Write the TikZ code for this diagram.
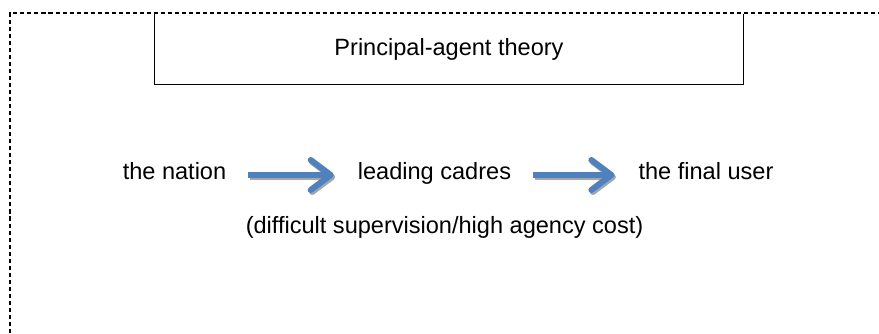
\documentclass[tikz,border=0pt]{standalone}
\usepackage{fontspec}
\setmainfont{Liberation Sans}
\usepackage{xcolor}
\usepackage{tikz}
\usetikzlibrary{arrows.meta,positioning}

\definecolor{flowblue}{HTML}{4F81BD}
\definecolor{flowshade}{HTML}{A6A6A6}

\begin{document}
\begin{tikzpicture}[
  every node/.style={font=\fontsize{13.4}{16}\selectfont},
  label/.style={text height=1ex, text depth=0ex},
  titlebox/.style={minimum width=11.76cm, minimum height=1.4cm},
  frame/.style={draw, line width=0.6pt, dash pattern=on 2.3pt off 1.7pt},
  flow/.style={line width=0.12cm, shorten <=0.32cm, shorten >=0.36cm,
    -{Straight Barb[length=0.4cm, width=0.6cm, round]}},
]
\useasboundingbox (0,0) rectangle (17.58,6.66);
\fill[white] (0,0) rectangle (17.58,6.66);

\node[titlebox] (title) at (8.98,5.68) {Principal-agent theory};
\draw[line width=0.8pt] (title.north west) -- (title.south west)
  -- (title.south east) -- (title.north east);

\node[label] (nation) at (3.49,3.16) {the nation};
\node[label] (cadres) at (8.69,3.16) {leading cadres};
\node[label] (user) at (14.12,3.16) {the final user};
\node[label] (cost) at (8.89,2.08) {(difficult supervision/high agency cost)};

% shadow first, then the blue arrows on top
\foreach \a/\b in {nation/cadres, cadres/user} {
  \draw[flow, flowshade, transform canvas={shift={(0.03,-0.04)}}] (\a) -- (\b);
  \draw[flow, flowblue] (\a) -- (\b);
}

\draw[frame] (0.2,0) -- (0.2,6.4) -- (17.58,6.4);
\end{tikzpicture}
\end{document}
